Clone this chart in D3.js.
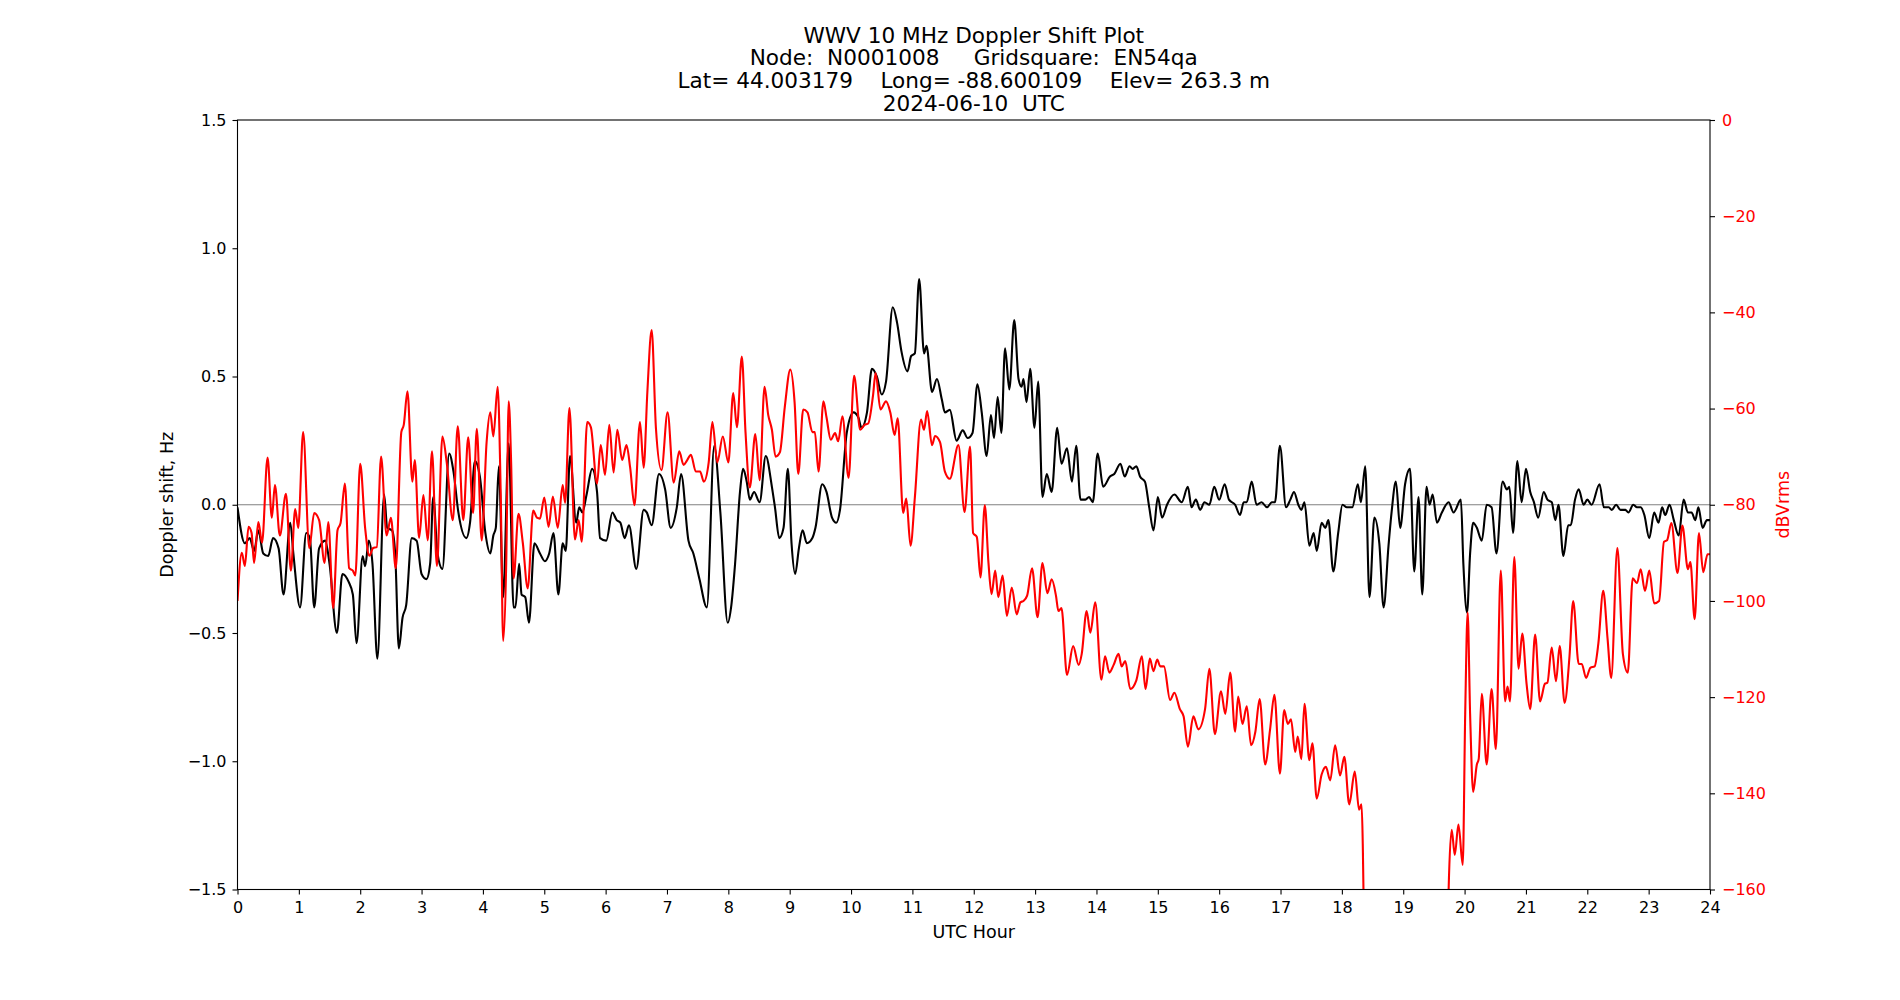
<!DOCTYPE html>
<html>
<head>
  <meta charset="UTF-8">
  <style>
    body { margin: 0; background: white; }
    svg { display: block; font-family: "DejaVu Sans", sans-serif; }
    .title { font-size: 21.6px; white-space: pre; }
    .tick text { font-size: 16px; font-family: "DejaVu Sans", sans-serif; }
    .axislabel { font-size: 17.5px; }
  </style>
</head>
<body>
<svg></svg>
<script src="https://d3js.org/d3.v7.min.js"></script>
<script>

let width = 1900, height = 1000;
const margin = {left: 237.5, right: 190, top: 120, bottom: 110.5};

// title lines
const titleLines = [
  "WWV 10 MHz Doppler Shift Plot",
  "Node:  N0001008     Gridsquare:  EN54qa",
  "Lat= 44.003179    Long= -88.600109    Elev= 263.3 m",
  "2024-06-10  UTC"
];

// tick values
const hourTicks = d3.range(0, 25);
const hzTicks = [-1.5, -1.0, -0.5, 0.0, 0.5, 1.0, 1.5];
const dbTicks = [0, -20, -40, -60, -80, -100, -120, -140, -160];

// doppler shift, [UTC hour, Hz]
const dopplerTrace = [
  [0.00,-0.01],[0.12,-0.15],[0.20,-0.13],[0.27,-0.18],[0.34,-0.10],[0.42,-0.19],[0.50,-0.20],[0.58,-0.13],[0.67,-0.17],[0.75,-0.35],
  [0.86,-0.07],[0.91,-0.19],[1.02,-0.40],[1.12,-0.11],[1.18,-0.13],[1.25,-0.40],[1.33,-0.17],[1.43,-0.14],[1.50,-0.23],[1.62,-0.50],
  [1.71,-0.27],[1.81,-0.30],[1.88,-0.35],[1.94,-0.54],[2.04,-0.20],[2.08,-0.24],[2.14,-0.14],[2.20,-0.23],[2.28,-0.60],[2.39,0.04],
  [2.44,-0.09],[2.52,-0.10],[2.57,-0.19],[2.63,-0.56],[2.69,-0.44],[2.75,-0.39],[2.84,-0.13],[2.92,-0.14],[3.00,-0.27],[3.08,-0.29],
  [3.14,-0.23],[3.19,0.03],[3.26,-0.19],[3.34,-0.25],[3.45,0.20],[3.52,0.13],[3.60,-0.03],[3.73,-0.13],[3.79,-0.07],[3.87,0.17],
  [3.95,0.11],[4.04,-0.11],[4.12,-0.19],[4.17,-0.12],[4.21,-0.09],[4.26,0.15],[4.33,-0.36],[4.42,0.24],[4.50,-0.40],[4.53,-0.40],
  [4.59,-0.23],[4.63,-0.35],[4.69,-0.36],[4.75,-0.46],[4.84,-0.15],[4.93,-0.19],[5.01,-0.22],[5.08,-0.19],[5.15,-0.11],[5.23,-0.35],
  [5.30,-0.15],[5.35,-0.18],[5.42,0.19],[5.52,-0.07],[5.57,-0.01],[5.62,-0.03],[5.69,0.04],[5.78,0.14],[5.86,0.05],[5.91,-0.13],
  [6.01,-0.14],[6.11,-0.03],[6.18,-0.06],[6.24,-0.07],[6.31,-0.13],[6.38,-0.08],[6.50,-0.25],[6.62,-0.02],[6.67,-0.03],[6.75,-0.08],
  [6.87,0.12],[6.97,0.06],[7.06,-0.09],[7.16,-0.01],[7.23,0.12],[7.35,-0.14],[7.43,-0.19],[7.53,-0.29],[7.65,-0.40],[7.77,0.23],
  [7.87,-0.03],[7.99,-0.46],[8.05,-0.39],[8.11,-0.23],[8.19,0.05],[8.24,0.14],[8.30,0.09],[8.35,0.02],[8.42,0.05],[8.51,0.01],
  [8.61,0.19],[8.71,0.07],[8.76,-0.01],[8.83,-0.13],[8.90,-0.09],[8.97,0.14],[9.03,-0.15],[9.09,-0.27],[9.15,-0.17],[9.21,-0.10],
  [9.28,-0.15],[9.37,-0.13],[9.42,-0.09],[9.53,0.08],[9.60,0.05],[9.69,-0.05],[9.76,-0.07],[9.82,-0.02],[9.93,0.28],[10.04,0.36],
  [10.12,0.34],[10.17,0.30],[10.26,0.36],[10.34,0.53],[10.42,0.50],[10.50,0.43],[10.57,0.48],[10.68,0.77],[10.75,0.71],[10.82,0.60],
  [10.92,0.52],[10.98,0.58],[11.04,0.59],[11.11,0.88],[11.19,0.59],[11.23,0.62],[11.32,0.44],[11.40,0.49],[11.48,0.41],[11.53,0.36],
  [11.61,0.37],[11.72,0.25],[11.82,0.29],[11.90,0.26],[11.98,0.28],[12.06,0.47],[12.13,0.36],[12.21,0.19],[12.28,0.35],[12.33,0.26],
  [12.39,0.42],[12.45,0.28],[12.51,0.61],[12.58,0.45],[12.66,0.72],[12.73,0.49],[12.78,0.46],[12.81,0.49],[12.86,0.40],[12.92,0.53],
  [12.99,0.30],[13.05,0.48],[13.12,0.03],[13.19,0.12],[13.27,0.05],[13.36,0.30],[13.43,0.16],[13.52,0.22],[13.60,0.09],[13.67,0.23],
  [13.74,0.02],[13.82,0.02],[13.88,0.03],[13.94,0.01],[14.02,0.20],[14.11,0.07],[14.22,0.11],[14.29,0.12],[14.39,0.16],[14.46,0.11],
  [14.54,0.15],[14.59,0.14],[14.65,0.15],[14.71,0.11],[14.79,0.09],[14.86,-0.01],[14.93,-0.10],[15.00,0.03],[15.07,-0.05],[15.15,0.00],
  [15.27,0.04],[15.39,0.01],[15.49,0.07],[15.55,-0.01],[15.62,0.02],[15.69,-0.02],[15.76,0.01],[15.84,0.00],[15.92,0.07],[16.00,0.02],
  [16.09,0.08],[16.16,0.02],[16.26,0.00],[16.34,-0.04],[16.40,0.01],[16.45,0.01],[16.53,0.09],[16.61,0.00],[16.69,0.01],[16.78,-0.01],
  [16.86,0.01],[16.91,0.01],[16.99,0.23],[17.09,-0.01],[17.16,0.02],[17.22,0.05],[17.29,0.00],[17.34,-0.02],[17.39,0.01],[17.47,-0.16],
  [17.54,-0.11],[17.59,-0.18],[17.67,-0.07],[17.73,-0.09],[17.78,-0.06],[17.86,-0.26],[17.94,-0.11],[18.01,0.00],[18.08,-0.01],[18.17,-0.01],
  [18.26,0.08],[18.31,0.01],[18.38,0.15],[18.45,-0.36],[18.53,-0.05],[18.61,-0.15],[18.68,-0.40],[18.76,-0.16],[18.81,-0.03],[18.88,0.09],
  [18.95,-0.09],[19.03,0.08],[19.11,0.14],[19.18,-0.26],[19.25,0.03],[19.31,-0.35],[19.38,0.07],[19.43,0.00],[19.48,0.04],[19.55,-0.07],
  [19.63,-0.03],[19.74,0.01],[19.82,-0.03],[19.94,0.02],[19.98,-0.23],[20.04,-0.42],[20.09,-0.19],[20.14,-0.07],[20.20,-0.09],[20.28,-0.14],
  [20.36,0.00],[20.44,-0.01],[20.52,-0.19],[20.62,0.09],[20.69,0.06],[20.73,0.07],[20.79,-0.11],[20.86,0.17],[20.93,0.01],[21.00,0.14],
  [21.07,0.05],[21.13,0.01],[21.20,-0.05],[21.29,0.05],[21.35,0.02],[21.42,0.01],[21.48,-0.06],[21.53,0.00],[21.61,-0.20],[21.69,-0.08],
  [21.73,-0.08],[21.80,0.02],[21.86,0.06],[21.94,0.00],[22.00,0.02],[22.07,0.00],[22.20,0.08],[22.27,-0.01],[22.35,-0.01],[22.40,-0.02],
  [22.47,0.00],[22.54,-0.02],[22.62,-0.02],[22.67,-0.03],[22.75,0.00],[22.81,-0.01],[22.87,-0.01],[22.93,-0.04],[23.01,-0.13],[23.09,-0.03],
  [23.16,-0.07],[23.22,-0.01],[23.27,-0.04],[23.34,0.00],[23.41,-0.06],[23.49,-0.12],[23.57,0.02],[23.64,-0.03],[23.70,-0.03],[23.76,-0.06],
  [23.81,-0.01],[23.88,-0.09],[23.95,-0.06],[24.00,-0.06]
];

// signal level, [UTC hour, dBVrms]
const powerTrace = [
  [0.00,-100.0],[0.07,-90.0],[0.12,-92.7],[0.18,-84.6],[0.23,-85.9],[0.27,-92.1],[0.34,-83.6],[0.40,-87.9],[0.49,-70.2],[0.56,-82.7],
  [0.61,-75.9],[0.69,-86.4],[0.79,-77.7],[0.87,-93.7],[0.94,-80.9],[0.99,-84.8],[1.07,-64.9],[1.17,-89.0],[1.25,-81.7],[1.33,-83.2],
  [1.42,-92.1],[1.48,-83.6],[1.56,-101.5],[1.63,-85.3],[1.68,-83.8],[1.75,-75.6],[1.82,-93.2],[1.88,-93.7],[1.92,-94.7],[2.00,-71.5],
  [2.08,-84.8],[2.15,-90.6],[2.21,-89.0],[2.27,-88.8],[2.34,-70.0],[2.43,-86.4],[2.50,-82.7],[2.58,-93.2],[2.67,-64.9],[2.71,-63.4],
  [2.77,-56.4],[2.85,-75.2],[2.89,-70.7],[2.96,-86.9],[3.03,-78.0],[3.10,-87.4],[3.17,-68.9],[3.25,-92.7],[3.34,-65.8],[3.41,-71.2],
  [3.51,-83.2],[3.59,-63.7],[3.68,-83.2],[3.76,-66.0],[3.84,-81.7],[3.90,-64.2],[3.98,-87.4],[4.06,-67.0],[4.12,-60.8],[4.17,-65.8],
  [4.24,-55.5],[4.29,-77.5],[4.33,-108.3],[4.38,-92.1],[4.42,-58.5],[4.46,-71.2],[4.50,-95.3],[4.58,-81.9],[4.65,-87.9],[4.73,-97.4],
  [4.82,-81.2],[4.88,-82.7],[4.93,-82.9],[5.00,-78.5],[5.07,-84.6],[5.14,-78.3],[5.22,-84.8],[5.30,-75.9],[5.34,-79.6],[5.41,-59.9],
  [5.50,-87.2],[5.56,-83.2],[5.61,-87.7],[5.70,-62.8],[5.76,-63.9],[5.86,-75.6],[5.92,-67.6],[5.99,-73.8],[6.06,-63.4],[6.13,-73.3],
  [6.19,-64.4],[6.27,-70.7],[6.34,-67.6],[6.40,-72.3],[6.47,-80.1],[6.56,-62.8],[6.62,-72.3],[6.68,-56.6],[6.75,-43.7],[6.82,-64.1],
  [6.91,-72.8],[7.01,-60.8],[7.11,-75.4],[7.20,-68.9],[7.27,-71.7],[7.33,-70.7],[7.39,-69.6],[7.47,-73.1],[7.54,-73.1],[7.60,-75.2],
  [7.68,-71.2],[7.74,-62.8],[7.82,-71.2],[7.91,-65.8],[8.00,-71.2],[8.08,-56.8],[8.14,-63.9],[8.22,-49.2],[8.28,-64.9],[8.35,-76.4],
  [8.44,-65.3],[8.51,-74.9],[8.59,-55.5],[8.65,-61.3],[8.71,-64.4],[8.77,-70.0],[8.84,-69.1],[8.92,-59.7],[9.01,-51.9],[9.08,-58.7],
  [9.14,-73.6],[9.22,-60.2],[9.29,-60.8],[9.37,-64.9],[9.41,-64.9],[9.47,-73.1],[9.55,-58.5],[9.60,-61.8],[9.67,-66.5],[9.74,-65.1],
  [9.79,-66.8],[9.86,-61.6],[9.96,-74.4],[10.05,-53.2],[10.15,-64.4],[10.22,-63.4],[10.28,-63.1],[10.36,-57.1],[10.40,-52.6],[10.48,-60.2],
  [10.57,-58.5],[10.64,-60.8],[10.71,-65.5],[10.76,-62.0],[10.85,-81.7],[10.90,-78.7],[10.97,-88.5],[11.04,-78.5],[11.14,-62.3],[11.19,-64.4],
  [11.24,-60.5],[11.32,-67.6],[11.37,-65.7],[11.45,-67.0],[11.53,-73.1],[11.61,-74.6],[11.75,-67.6],[11.85,-81.5],[11.94,-67.9],[11.99,-85.9],
  [12.05,-86.7],[12.11,-95.1],[12.18,-80.1],[12.24,-92.1],[12.29,-98.6],[12.35,-93.7],[12.40,-99.2],[12.47,-94.7],[12.54,-103.1],[12.62,-97.2],
  [12.70,-102.8],[12.76,-100.3],[12.81,-100.0],[12.87,-98.9],[12.95,-93.2],[13.04,-103.4],[13.12,-92.1],[13.20,-98.4],[13.27,-95.5],[13.34,-98.9],
  [13.38,-102.1],[13.43,-101.5],[13.52,-115.4],[13.62,-109.4],[13.71,-113.3],[13.76,-111.0],[13.84,-102.1],[13.90,-106.6],[13.98,-100.3],[14.08,-116.4],
  [14.14,-111.5],[14.21,-114.9],[14.28,-113.3],[14.36,-111.0],[14.41,-113.6],[14.47,-112.5],[14.55,-118.3],[14.65,-116.5],[14.74,-111.5],[14.80,-118.3],
  [14.87,-112.0],[14.93,-114.6],[14.99,-112.2],[15.04,-113.6],[15.10,-113.6],[15.20,-120.6],[15.27,-119.1],[15.36,-122.5],[15.42,-124.0],[15.49,-130.3],
  [15.58,-124.0],[15.66,-126.7],[15.77,-122.5],[15.84,-114.1],[15.93,-127.7],[16.03,-118.8],[16.10,-123.5],[16.18,-114.9],[16.26,-127.2],[16.31,-119.9],
  [16.38,-125.6],[16.45,-121.9],[16.52,-130.0],[16.59,-127.2],[16.66,-120.4],[16.75,-134.0],[16.83,-126.7],[16.90,-119.5],[16.99,-135.9],[17.06,-122.7],
  [17.12,-125.6],[17.17,-124.6],[17.24,-131.4],[17.28,-128.2],[17.34,-132.9],[17.39,-121.4],[17.47,-133.1],[17.52,-129.6],[17.59,-141.1],[17.67,-136.1],
  [17.74,-134.5],[17.81,-137.3],[17.89,-130.0],[17.97,-136.3],[18.04,-132.4],[18.12,-142.3],[18.21,-135.5],[18.28,-143.4],[18.32,-142.3],[18.40,-195.0],
  [18.50,-200.0],[19.00,-198.0],[19.60,-200.0],[19.70,-195.0],[19.74,-160.1],[19.79,-147.6],[19.84,-152.8],[19.90,-146.5],[19.97,-154.9],[20.01,-123.5],
  [20.05,-102.4],[20.09,-123.5],[20.14,-139.7],[20.20,-134.0],[20.23,-132.9],[20.28,-119.3],[20.36,-134.0],[20.44,-118.3],[20.51,-130.8],[20.59,-93.7],
  [20.66,-120.9],[20.70,-117.8],[20.74,-120.9],[20.81,-90.9],[20.88,-114.1],[20.94,-106.8],[21.01,-117.2],[21.07,-122.5],[21.15,-107.0],[21.23,-120.9],
  [21.31,-117.2],[21.35,-117.0],[21.42,-109.7],[21.49,-116.7],[21.55,-109.4],[21.63,-121.2],[21.71,-111.5],[21.77,-100.0],[21.86,-113.1],[21.91,-113.1],
  [21.98,-116.0],[22.05,-113.9],[22.12,-113.6],[22.18,-108.9],[22.26,-97.9],[22.33,-107.8],[22.39,-116.0],[22.49,-89.0],[22.58,-111.0],[22.66,-114.9],
  [22.74,-95.3],[22.81,-96.3],[22.87,-93.4],[22.94,-97.9],[23.01,-93.7],[23.09,-100.5],[23.17,-100.0],[23.25,-87.7],[23.30,-87.4],[23.37,-83.8],
  [23.47,-94.2],[23.55,-84.3],[23.64,-93.4],[23.68,-91.9],[23.75,-103.8],[23.82,-85.9],[23.89,-94.0],[23.96,-90.3],[24.00,-90.3]
];

let svg = d3.select("svg")
    .attr("width", width)
    .attr("height", height);

let plotW = width - margin.left - margin.right,
    plotH = height - margin.top - margin.bottom;

let x = d3.scaleLinear().domain([0, 24]).range([margin.left, margin.left + plotW]);
let yHz = d3.scaleLinear().domain([-1.5, 1.5]).range([margin.top + plotH, margin.top]);
let yDb = d3.scaleLinear().domain([-160, 0]).range([margin.top + plotH, margin.top]);

// clip lines to the axes box
svg.append("defs").append("clipPath")
    .attr("id", "plotclip")
  .append("rect")
    .attr("x", margin.left)
    .attr("y", margin.top)
    .attr("width", plotW)
    .attr("height", plotH);

// zero line
svg.append("line")
    .attr("x1", x(0)).attr("x2", x(24))
    .attr("y1", yHz(0)).attr("y2", yHz(0))
    .attr("stroke", "#808080")
    .attr("stroke-width", 1);

let plot = svg.append("g").attr("clip-path", "url(#plotclip)");

let hzLine = d3.line()
    .x(d => x(d[0]))
    .y(d => yHz(d[1]))
    .curve(d3.curveMonotoneX);

let dbLine = d3.line()
    .x(d => x(d[0]))
    .y(d => yDb(d[1]))
    .curve(d3.curveMonotoneX);

plot.append("path")
    .datum(dopplerTrace)
    .attr("fill", "none")
    .attr("stroke", "black")
    .attr("stroke-width", 2.1)
    .attr("stroke-linejoin", "round")
    .attr("d", hzLine);

plot.append("path")
    .datum(powerTrace)
    .attr("fill", "none")
    .attr("stroke", "#ff0000")
    .attr("stroke-width", 2.1)
    .attr("stroke-linejoin", "round")
    .attr("d", dbLine);

// axes
let xAxis = svg.append("g")
    .attr("transform", `translate(0,${margin.top + plotH})`)
    .call(d3.axisBottom(x).tickValues(hourTicks).tickFormat(d3.format("d"))
        .tickSize(5).tickSizeOuter(0).tickPadding(7));

let leftAxis = svg.append("g")
    .attr("transform", `translate(${margin.left},0)`)
    .call(d3.axisLeft(yHz).tickValues(hzTicks).tickFormat(d3.format(".1f"))
        .tickSize(5).tickSizeOuter(0).tickPadding(6));

let rightAxis = svg.append("g")
    .attr("transform", `translate(${margin.left + plotW},0)`)
    .call(d3.axisRight(yDb).tickValues(dbTicks).tickFormat(d3.format("d"))
        .tickSize(5).tickSizeOuter(0).tickPadding(7));

svg.selectAll(".domain").remove();
svg.selectAll(".tick line").attr("stroke", "black").attr("stroke-width", 1.1);
xAxis.selectAll("text").attr("fill", "black");
leftAxis.selectAll("text").attr("fill", "black");
rightAxis.selectAll("text").attr("fill", "#ff0000");

// frame
svg.append("rect")
    .attr("x", margin.left)
    .attr("y", margin.top)
    .attr("width", plotW)
    .attr("height", plotH)
    .attr("fill", "none")
    .attr("stroke", "black")
    .attr("stroke-width", 1.1);

// axis labels
svg.append("text")
    .attr("class", "axislabel")
    .attr("transform", `translate(167,${yHz(0)}) rotate(-90)`)
    .attr("text-anchor", "middle")
    .attr("dominant-baseline", "central")
    .text("Doppler shift, Hz");

svg.append("text")
    .attr("class", "axislabel")
    .attr("transform", `translate(1783,${yHz(0)}) rotate(-90)`)
    .attr("text-anchor", "middle")
    .attr("dominant-baseline", "central")
    .attr("fill", "#ff0000")
    .text("dBVrms");

svg.append("text")
    .attr("class", "axislabel")
    .attr("x", x(12))
    .attr("y", 937.5)
    .attr("text-anchor", "middle")
    .text("UTC Hour");

// title
svg.append("g")
  .selectAll("text")
  .data(titleLines)
  .enter()
  .append("text")
    .attr("class", "title")
    .attr("x", x(12))
    .attr("y", (d, i) => 42.7 + i * 22.6)
    .attr("text-anchor", "middle")
    .text(d => d);

</script>
</body>
</html>
